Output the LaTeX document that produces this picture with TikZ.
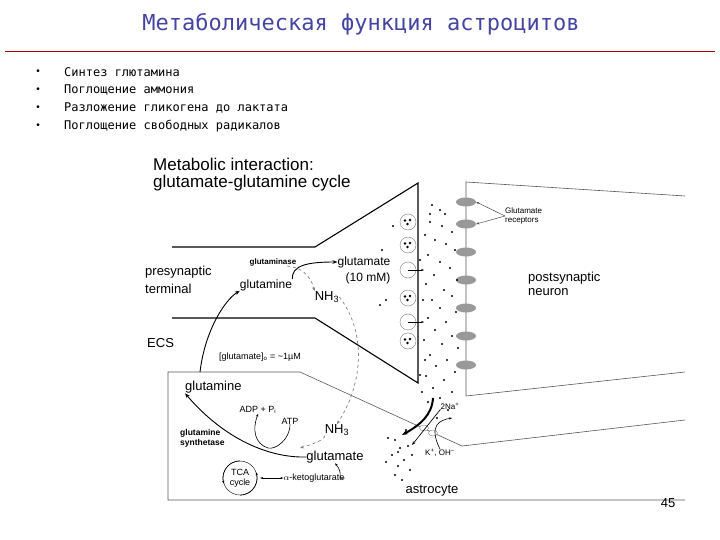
\documentclass[tikz,border=0pt]{standalone}
\usepackage{fontspec}
\setmainfont{Liberation Sans}
\newfontfamily\monof{DejaVu Sans Mono}
\usetikzlibrary{arrows.meta,shapes.geometric}
\begin{document}
\begin{tikzpicture}[x=1pt,y=-1pt,
  lbl/.style={inner sep=0pt,font=\fontsize{13}{14}\selectfont},
  sm/.style={inner sep=0pt,font=\fontsize{9}{10}\selectfont},
  memb/.style={line width=1.1pt},
  thin/.style={line width=0.6pt,gray!70!black},
  arr/.style={-{Stealth[length=5pt]},line width=0.9pt},
  darr/.style={-{Stealth[length=4pt]},dashed,gray,line width=0.7pt},
  sarr/.style={-{Stealth[length=3pt]},line width=0.6pt},
  ves/.style={circle,draw=gray,minimum size=16pt,inner sep=0pt},
  rec/.style={ellipse,fill=gray!80,minimum width=20pt,minimum height=9pt,inner sep=0pt},
  dot/.style={circle,fill=black,inner sep=0pt,minimum size=2.2pt}]
\useasboundingbox (0,0) rectangle (720,540);
\fill[white] (0,0) rectangle (720,540);
\node[inner sep=0pt,text=blue!40!gray!90!black,font=\monof\fontsize{22}{24}\selectfont] (title) at (361,24) {Метаболическая функция астроцитов};
\draw[red!70!black,line width=1pt] (5,52) -- (715,52);
\foreach \t [count=\i] in {Синтез глютамина,Поглощение аммония,Разложение гликогена до лактата,Поглощение свободных радикалов}{
  \node[inner sep=0pt,font=\fontsize{10}{12}\selectfont] (b\i) at (38,54+18*\i) {•};
  \node[anchor=west,inner sep=0pt,font=\monof\fontsize{12}{14}\selectfont] (t\i) at (64,54+18*\i) {\t};}
% figure
\node[anchor=west,inner sep=0pt,font=\fontsize{17}{19}\selectfont] (h1) at (153,164) {Metabolic interaction:};
\node[anchor=west,inner sep=0pt,font=\fontsize{17}{19}\selectfont] (h2) at (153,183) {glutamate-glutamine cycle};
% presynaptic
\draw[memb] (172,247) -- (315,247) -- (418,183) -- (418,383) -- (315,318) -- (172,318);
% postsynaptic
\draw[thin] (685,196) -- (466,182) -- (466,396) -- (685,372);
% astrocyte
\draw[thin] (685,420) -- (462,446) -- (300,372) -- (168,372) -- (168,500) -- (685,500);
% receptors
\foreach \y [count=\i] in {202,224,252,280,308,336,365} \node[rec] (r\i) at (466,\y) {};
% vesicles
\foreach \y [count=\i] in {222,245,298,341} {\node[ves] (v\i) at (408,\y) {};
  \fill (405,\y-1.5) circle (1.3) (410,\y-2) circle (1.3) (407.5,\y+2) circle (1.3);}
\node[ves] (e1) at (408,270) {};
\node[ves] (e2) at (408,322) {};
\draw[-{Stealth[length=3pt]},line width=0.5pt] (e1.center) -- (424,270);
\draw[-{Stealth[length=3pt]},line width=0.5pt] (e2.center) -- (424,322);
% dots
\foreach \x/\y in {432/205,440/210,445/214,430/222,442/226,452/232,435/240,446/244,455/250,428/255,440/262,450/268,434/275,457/280,426/284,444/290,452/296,432/300,440/308,456/312,428/318,446/322,435/330,452/336,424/340,442/344,458/348,430/355,447/360,436/366,455/372,426/376,444/380,433/388,452/392,422/392,440/398,428/402,448/410,393/226,386/300,380/305,395/440,400/448,392/455,404/460,398/466,406/430,388/438,412/455,410/470,395/475,402/480,430/214,425/235,420/260,423/300,425/360,420/375,437/418,382/250,398/452,408/446,386/462}
  \node[dot] at (\x,\y) {};
% labels
\node[lbl,anchor=west] (pre1) at (145,272) {presynaptic};
\node[lbl,anchor=west] (pre2) at (145,289) {terminal};
\node[lbl,anchor=west] (ecs) at (147,343) {ECS};
\node[inner sep=0pt,font=\fontsize{8}{9}\selectfont\bfseries] (gase) at (273,262) {glutaminase};
\node[inner sep=0pt,font=\fontsize{12}{13}\selectfont] (gln1) at (266,285) {glutamine};
\node[inner sep=0pt,font=\fontsize{12}{13}\selectfont] (glu1) at (364,262) {glutamate};
\node[inner sep=0pt,font=\fontsize{12}{13}\selectfont] (mm) at (368,278) {(10 mM)};
\node[lbl] (nh1) at (327,297) {NH\textsubscript{3}};
\node[sm] (conc) at (260,357) {[glutamate]\textsubscript{o} = \textasciitilde1µM};
\node[lbl,anchor=west] (gln2) at (185,387) {glutamine};
\node[sm] (adp) at (258,410) {ADP + P\textsubscript{i}};
\node[sm] (atp) at (290,421) {ATP};
\node[inner sep=0pt,font=\fontsize{8.5}{10}\selectfont\bfseries,anchor=west,align=left] (gs) at (180,438) {glutamine\\synthetase};
\node[lbl] (nh2) at (337,430) {NH\textsubscript{3}};
\node[lbl] (glu2) at (335,457) {glutamate};
\node[circle,draw,minimum size=34pt,inner sep=0pt,align=center,font=\fontsize{9}{10}\selectfont] (tca) at (240,478) {TCA\\cycle};
\node[sm] (akg) at (314,478) {$\alpha$-ketoglutarate};
\node[lbl] (astro) at (432,491) {astrocyte};
\node[inner sep=0pt,font=\fontsize{8}{9}\selectfont] (na) at (450,406) {2Na\textsuperscript{+}};
\node[inner sep=0pt,font=\fontsize{8}{9}\selectfont] (koh) at (440,453) {K\textsuperscript{+}, OH\textsuperscript{–}};
\node[inner sep=0pt,font=\fontsize{8}{9}\selectfont,align=left,anchor=west] (grec) at (505,216) {Glutamate\\receptors};
\node[lbl,anchor=west,align=left] (post) at (528,284) {postsynaptic\\neuron};
\node[lbl] (num) at (668,503) {45};
% arrows
\coordinate (s1) at (200,372);
\draw[arr] (s1) .. controls (205,330) and (225,300) .. (gln1.south west);
\draw[arr] (gln1.north east) .. controls (292,266) and (305,262) .. (glu1.west);
\draw[darr] (287,266) .. controls (300,267) and (310,274) .. (nh1.north west);
\draw[darr] (nh1.east) .. controls (365,330) and (365,380) .. (nh2.north);
\draw[darr] (nh2.south west) .. controls (325,440) and (310,445) .. (300,448);
\draw[arr] (glu2.west) .. controls (270,458) and (225,440) .. (gln2.south west);
\draw[sarr] (atp.south) .. controls (290,440) and (275,450) .. (268,448) .. controls (255,444) and (252,430) .. (adp.south);
\draw[{Stealth[length=3pt]}-{Stealth[length=3pt]},line width=0.6pt] (tca.east) ++(3,0) -- (akg.west);
\draw[sarr] (akg.east) .. controls (335,480) and (345,475) .. (glu2.south);
\draw[sarr] (tca.north) arc[start angle=-90,end angle=-200,radius=17];
\draw[sarr] (tca.south) arc[start angle=90,end angle=-20,radius=17];
\node[ellipse,draw=gray,minimum width=9pt,minimum height=6pt,inner sep=0pt,fill=white] (tr1) at (424,428) {};
\node[ellipse,draw=gray,minimum width=9pt,minimum height=6pt,inner sep=0pt,fill=white] (tr2) at (433,433) {};
\draw[-{Stealth[length=6pt]},line width=2pt] (433,398) .. controls (432,415) and (420,425) .. (402,435);
\draw[-{Stealth[length=4pt]},line width=0.7pt] (na.south west) -- (412,445);
\draw[sarr] (koh.north) .. controls (428,425) and (440,420) .. (452,418);
\draw[-{Stealth[length=3pt]},gray!60!black,line width=0.5pt] (grec.west) -- (r1.east);
\draw[-{Stealth[length=3pt]},gray!60!black,line width=0.5pt] (grec.west) -- (r2.east);
\end{tikzpicture}
\end{document}
